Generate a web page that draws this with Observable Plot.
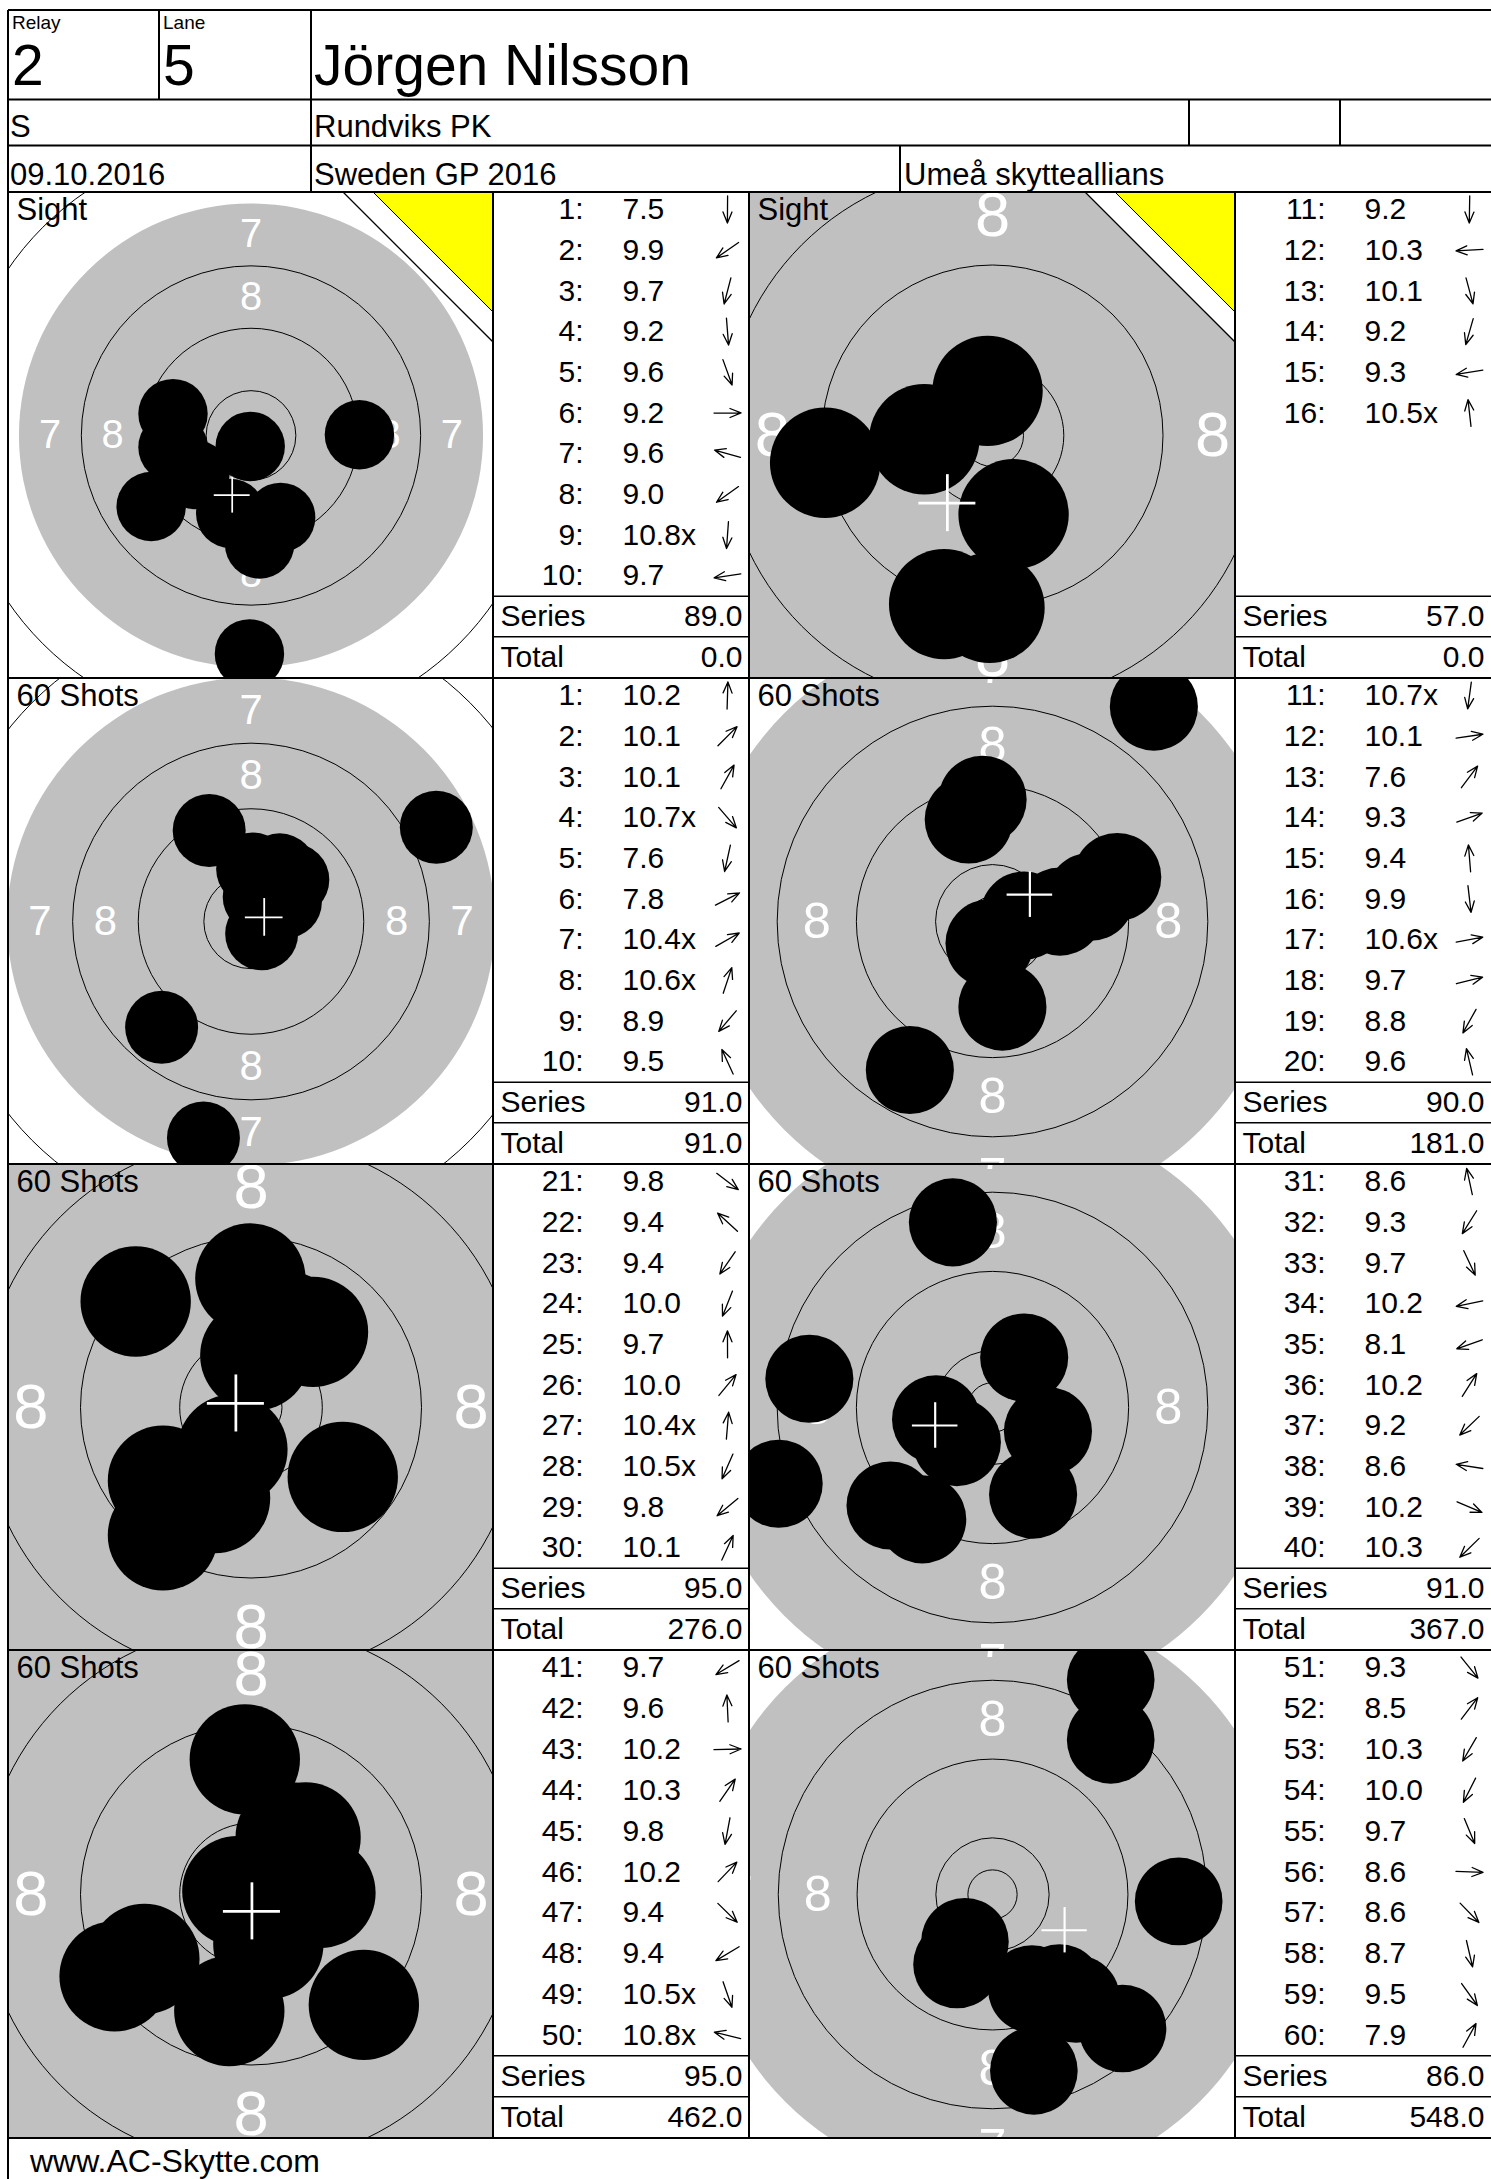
<!DOCTYPE html>
<html>
<head>
<meta charset="utf-8">
<script src="https://cdn.jsdelivr.net/npm/d3@7"></script>
<script src="https://cdn.jsdelivr.net/npm/@observablehq/plot@0.6"></script>
<style>
html,body{margin:0;padding:0;background:#fff;overflow:hidden;}
#page{position:relative;width:1491px;height:2179px;background:#fff;overflow:hidden;font-family:"Liberation Sans",Arial,Helvetica,sans-serif;}
.cell{position:absolute;overflow:hidden;}
.cell svg{display:block;}
#overlay{position:absolute;left:0;top:0;pointer-events:none;}
</style>
</head>
<body>
<div id="page"></div>
<script>
// ---------------- DATA ----------------
const relay = "2";
const lane = "5";
const shooterName = "Jörgen Nilsson";
const shooterClass = "S";
const clubName = "Rundviks PK";
const eventDate = "09.10.2016";
const competitionName = "Sweden GP 2016";
const organiserName = "Umeå skytteallians";
const footerText = "www.AC-Skytte.com";

const panelTitles = ["Sight", "Sight", "60 Shots", "60 Shots", "60 Shots", "60 Shots", "60 Shots", "60 Shots"];
const seriesScores = [89.0, 57.0, 91.0, 90.0, 95.0, 91.0, 95.0, 86.0];
const runningTotals = [0.0, 0.0, 91.0, 181.0, 276.0, 367.0, 462.0, 548.0];

// sighting shots 1-16
const sightScores = [7.5, 9.9, 9.7, 9.2, 9.6, 9.2, 9.6, 9.0, 10.8, 9.7, 9.2, 10.3, 10.1, 9.2, 9.3, 10.5];
const sightInnerTens = [9, 16];
// hit positions in mm from target centre (x right, y up)
const sightX = [-0.2, -7.2, -2.6, 1.1, 3.8, 13.9, -10.0, -12.8, -0.1, -10.0, -0.24, -5.5, 1.7, -3.9, -13.5, -0.4];
const sightY = [-28.0, -5.0, -10.0, -13.9, -10.5, 0.1, 2.8, -9.1, -1.4, -1.5, -13.9, -0.3, -6.35, -13.6, -2.2, 3.6];

// match shots 1-60
const matchScores = [
  10.2, 10.1, 10.1, 10.7, 7.6, 7.8, 10.4, 10.6, 8.9, 9.5,
  10.7, 10.1, 7.6, 9.3, 9.4, 9.9, 10.6, 9.7, 8.8, 9.6,
  9.8, 9.4, 9.4, 10.0, 9.7, 10.0, 10.4, 10.5, 9.8, 10.1,
  8.6, 9.3, 9.7, 10.2, 8.1, 10.2, 9.2, 8.6, 10.2, 10.3,
  9.7, 9.6, 10.2, 10.3, 9.8, 10.2, 9.4, 9.4, 10.5, 10.8,
  9.3, 8.5, 10.3, 10.0, 9.7, 8.6, 8.6, 8.7, 9.5, 7.9
];
const matchInnerTens = [4, 7, 8, 11, 17, 27, 28, 49, 50];
const matchX = [
  0.2, 5.1, 3.5, 1.3, -5.8, 22.6, 4.2, 1.0, -10.9, -5.1,
  -0.3, 6.8, 16.3, 12.6, -1.0, 1.0, 3.2, 9.9, -8.35, -2.4,
  7.4, -9.3, -7.1, -2.9, -0.05, 5.0, 0.35, -1.5, -7.1, 3.0,
  -4.0, -7.1, 4.1, -5.7, -21.6, 3.2, -10.3, -18.5, 5.6, -3.6,
  -8.6, -0.5, 5.6, 3.2, -1.75, 4.4, 9.1, -11.0, 1.4, -1.1,
  8.5, 12.0, -2.8, -3.6, 4.0, 18.9, 13.2, 4.2, 6.8, 12.0
];
const matchY = [
  6.4, 5.1, 6.3, -1.5, -26.4, 11.5, 2.4, 3.0, -12.9, 11.1,
  -2.2, 1.0, 21.7, 4.5, 12.3, -8.6, 0.6, 2.5, -15.0, 10.3,
  -5.6, 8.55, -10.3, -7.3, 10.4, 6.1, 4.2, -3.4, -5.9, 6.5,
  18.7, -11.3, -8.8, -1.2, -7.7, 5.05, -9.9, 2.9, -2.4, -3.5,
  -5.2, 10.9, 0.13, 4.6, -9.4, 4.6, -8.9, -6.6, -4.0, 0.27,
  -10.6, 15.7, -4.8, -7.1, -9.6, -0.7, -13.6, -17.9, -9.5, 21.8
];

// 10 m air pistol target geometry (mm)
const ringRadii = [2.5, 5.75, 13.75, 21.75, 37.75, 45.75, 53.75];
const aimingBlackRadius = 29.75;
const ringLabelNumbers = [8, 7];
const ringLabelRadii = [17.75, 25.75];

// ---------------- LAYOUT / STYLE ----------------
const FONT = '"Liberation Sans", Arial, Helvetica, sans-serif';
const panelZoom = [7.8, 12.4, 8.2, 9.9, 12.4, 9.9, 12.4, 9.85]; // px per mm
const shotRadiusMm = 4.45;
const crossHalfMm = 2.3;
const labelFontMm = 5.1;
const L = {
  header: [10, 99.5, 145.5, 192],
  cols: [8, 493, 749, 1235, 1491],
  rows: [192, 678, 1164, 1650, 2138]
};

// ---------------- BUILD ----------------
const page = document.getElementById("page");
const fmt = (s, inner) => s.toFixed(1) + (inner ? "x" : "");

const sightShots = sightScores.map((s, i) => ({n: i + 1, s, label: fmt(s, sightInnerTens.includes(i + 1)), x: sightX[i], y: sightY[i]}));
const matchShots = matchScores.map((s, i) => ({n: i + 1, s, label: fmt(s, matchInnerTens.includes(i + 1)), x: matchX[i], y: matchY[i]}));

const panels = panelTitles.map((title, p) => ({
  title,
  sight: title === "Sight",
  zoom: panelZoom[p],
  shots: p === 0 ? sightShots.slice(0, 10) : p === 1 ? sightShots.slice(10) : matchShots.slice((p - 2) * 10, (p - 1) * 10),
  series: seriesScores[p],
  total: runningTotals[p]
}));

const arrowShape = {
  draw(context, l) {
    const hl = 11, hw = 4.5;
    context.moveTo(0, 0);
    context.lineTo(0, -l);
    context.moveTo(-hw, -l + hl);
    context.lineTo(0, -l);
    context.lineTo(hw, -l + hl);
  }
};

function place(el, left, top, w, h) {
  const d = document.createElement("div");
  d.className = "cell";
  d.style.left = left + "px";
  d.style.top = top + "px";
  d.style.width = w + "px";
  d.style.height = h + "px";
  d.appendChild(el);
  page.appendChild(d);
}

function targetChart(p, w, h) {
  const k = p.zoom;
  const hx = w / 2 / k, hy = h / 2 / k;
  const mx = d3.mean(p.shots, d => d.x), my = d3.mean(p.shots, d => d.y);
  const labelSpots = ringLabelNumbers.flatMap((n, i) => {
    const r = ringLabelRadii[i];
    return [[0, r], [0, -r], [r, 0], [-r, 0]].map(([x, y]) => ({n, x, y}));
  });
  const sw = Math.max(1.6, 0.22 * k);
  const svg = Plot.plot({
    width: w, height: h, margin: 0,
    x: {domain: [-hx, hx], axis: null},
    y: {domain: [-hy, hy], axis: null},
    r: {type: "identity"},
    style: {background: "white", overflow: "hidden", fontFamily: FONT},
    marks: [
      Plot.dot([aimingBlackRadius], {x: 0, y: 0, r: d => d * k, fill: "#c0c0c0"}),
      Plot.dot(ringRadii, {x: 0, y: 0, r: d => d * k, fill: "none", stroke: "black", strokeWidth: 1}),
      Plot.text(labelSpots, {x: "x", y: "y", text: d => String(d.n), fill: "white", fontSize: labelFontMm * k, fontFamily: FONT}),
      Plot.text([p.title], {text: d => d, frameAnchor: "top-left", dx: 8, dy: 5, lineAnchor: "top", textAnchor: "start", fontSize: 31, fill: "black", fontFamily: FONT}),
      Plot.dot(p.shots, {x: "x", y: "y", r: shotRadiusMm * k, fill: "black"}),
      Plot.ruleX([mx], {x: d => d, y1: my - crossHalfMm, y2: my + crossHalfMm, stroke: "white", strokeWidth: sw}),
      Plot.ruleY([my], {y: d => d, x1: mx - crossHalfMm, x2: mx + crossHalfMm, stroke: "white", strokeWidth: sw})
    ]
  });
  if (p.sight) {
    const s = d3.select(svg);
    s.append("polygon").attr("points", `${w - 150},0 ${w},0 ${w},150`).attr("fill", "white");
    s.append("line").attr("x1", w - 150).attr("y1", 0).attr("x2", w).attr("y2", 150).attr("stroke", "black").attr("stroke-width", 1.3);
    s.append("polygon").attr("points", `${w - 120},0 ${w},0 ${w},120`).attr("fill", "#ffff00").attr("stroke", "black").attr("stroke-width", 1);
  }
  return svg;
}

function tableChart(p, w, h) {
  const rows = p.shots.map((d, i) => ({...d, row: i + 1}));
  const sums = [{label: "Series", v: p.series, row: 11}, {label: "Total", v: p.total, row: 12}];
  return Plot.plot({
    width: w, height: h, margin: 0,
    x: {type: "identity"},
    y: {domain: [0.5823, 12.523], range: [0, h], axis: null},
    style: {background: "white", overflow: "hidden", fontFamily: FONT},
    marks: [
      Plot.ruleY([10.5, 11.5], {stroke: "black", strokeWidth: 1.5}),
      Plot.text(rows, {x: 90, y: "row", text: d => d.n + ":", textAnchor: "end", fontSize: 30, fill: "black", fontFamily: FONT}),
      Plot.text(rows, {x: 129, y: "row", text: "label", textAnchor: "start", fontSize: 30, fill: "black", fontFamily: FONT}),
      Plot.vector(rows, {x: 234, y: "row", rotate: d => Math.atan2(d.x, d.y) * 180 / Math.PI, length: 27, anchor: "middle", shape: arrowShape, stroke: "black", strokeWidth: 1.3}),
      Plot.text(sums, {x: 7, y: "row", text: "label", textAnchor: "start", fontSize: 30, fill: "black", fontFamily: FONT}),
      Plot.text(sums, {x: 249, y: "row", text: d => d.v.toFixed(1), textAnchor: "end", fontSize: 30, fill: "black", fontFamily: FONT})
    ]
  });
}

panels.forEach((p, i) => {
  const r = Math.floor(i / 2), side = i % 2;
  const top = L.rows[r], h = L.rows[r + 1] - top;
  const tl = L.cols[side * 2], tw = L.cols[side * 2 + 1] - tl;
  const bl = L.cols[side * 2 + 1], bw = L.cols[side * 2 + 2] - bl;
  place(targetChart(p, tw, h), tl, top, tw, h);
  place(tableChart(p, bw, h), bl, top, bw, h);
});

// ---------------- GRID + HEADER TEXT ----------------
const ov = d3.select(page).append("svg").attr("id", "overlay").attr("width", 1491).attr("height", 2179);
const lines = [];
const H = (y, x1 = 8, x2 = 1491) => lines.push([x1, y, x2, y]);
const V = (x, y1, y2) => lines.push([x, y1, x, y2]);
L.header.forEach(y => H(y));
L.rows.forEach(y => H(y));
V(8, L.header[0], 2179);
V(159, L.header[0], L.header[1]);
V(311, L.header[0], L.header[3]);
V(1189, L.header[1], L.header[2]);
V(1340, L.header[1], L.header[2]);
V(900, L.header[2], L.header[3]);
[L.cols[1], L.cols[2], L.cols[3]].forEach(x => V(x, L.rows[0], L.rows[4]));
ov.selectAll("line").data(lines).join("line")
  .attr("x1", d => d[0]).attr("y1", d => d[1]).attr("x2", d => d[2]).attr("y2", d => d[3])
  .attr("stroke", "black").attr("stroke-width", 2);

const texts = [
  {t: "Relay", x: 12, y: 29, s: 19},
  {t: "Lane", x: 163, y: 29, s: 19},
  {t: relay, x: 12, y: 85, s: 57},
  {t: lane, x: 163, y: 85, s: 57},
  {t: shooterName, x: 314, y: 85, s: 57},
  {t: shooterClass, x: 10, y: 137, s: 31},
  {t: clubName, x: 314, y: 137, s: 31},
  {t: eventDate, x: 10, y: 185, s: 31},
  {t: competitionName, x: 314, y: 185, s: 31},
  {t: organiserName, x: 904, y: 185, s: 31},
  {t: footerText, x: 30, y: 2172, s: 32}
];
ov.selectAll("text").data(texts).join("text")
  .attr("x", d => d.x).attr("y", d => d.y)
  .attr("font-family", FONT).attr("font-size", d => d.s).attr("fill", "black")
  .text(d => d.t);
</script>
</body>
</html>
